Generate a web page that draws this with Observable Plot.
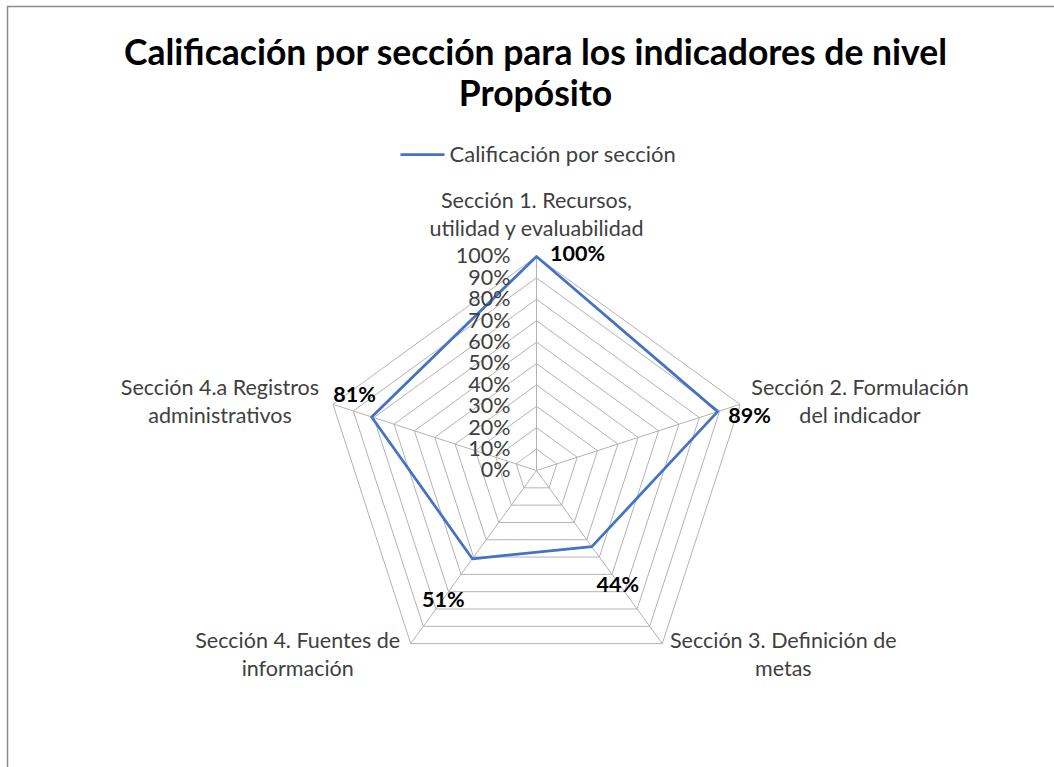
<!DOCTYPE html>
<html><head><meta charset="utf-8">
<script src="https://cdn.jsdelivr.net/npm/d3@7"></script>
<script src="https://cdn.jsdelivr.net/npm/@observablehq/plot@0.6"></script>
<style>
html,body{margin:0;padding:0;background:#fff;overflow:hidden;}
svg{font-family:Lato,"Open Sans",sans-serif;}
</style></head><body><div id="chart"></div>
<script>
// ---- data ----
const titleText = "Calificación por sección para los indicadores de nivel\nPropósito";
const seriesName = "Calificación por sección";
const categories = [
  "Sección 1. Recursos,\nutilidad y evaluabilidad",
  "Sección 2. Formulación\ndel indicador",
  "Sección 3. Definición de\nmetas",
  "Sección 4. Fuentes de\ninformación",
  "Sección 4.a Registros\nadministrativos"
];
const values = [1.00, 0.89, 0.44, 0.51, 0.81];
const ticks = [0, 0.1, 0.2, 0.3, 0.4, 0.5, 0.6, 0.7, 0.8, 0.9, 1.0];
const tickLabels = ["0%", "10%", "20%", "30%", "40%", "50%", "60%", "70%", "80%", "90%", "100%"];

// ---- layout ----
const W = 1054, H = 767, cx = 536, cy = 470, R = 214;
const n = categories.length;
const ang = i => (i % n) * 2 * Math.PI / n;
const px = (i, r) => r * Math.sin(ang(i));
const py = (i, r) => r * Math.cos(ang(i));
const ux = p => (p - cx) / R;   // pixel -> unit (layout only)
const uy = p => (cy - p) / R;
const valueLabelOffset = [[41, -2], [32, 4], [26, 38], [-29, 41], [-17, -22]];
const catLabelOffset = [[0, -43], [120, -4], [121, 9], [-113, 9], [-113, -4]];
const blue = "#4472C4", grid = "#b3b3b3", textGray = "#404040";
const pct = d3.format(".0%");

const rings = ticks.filter(t => t > 0).flatMap(t =>
  d3.range(n + 1).map(i => ({t, x: px(i, t), y: py(i, t)})));

const chart = Plot.plot({
  width: W, height: H, margin: 0,
  x: {domain: [ux(0), ux(W)], axis: null},
  y: {domain: [uy(H), uy(0)], axis: null},
  marks: [
    Plot.frame({stroke: "#8c8c8c", strokeWidth: 1.5, insetLeft: 7, insetTop: 6, insetRight: -6, insetBottom: -6}),
    Plot.line(rings, {x: "x", y: "y", z: "t", stroke: grid, strokeWidth: 1}),
    Plot.link(categories, {x1: () => 0, y1: () => 0, x2: (d, i) => px(i, 1), y2: (d, i) => py(i, 1), stroke: grid, strokeWidth: 1}),
    Plot.line(values, {x: (d, i) => px(i, d), y: (d, i) => py(i, d), curve: "linear-closed", stroke: blue, strokeWidth: 2.75}),
    Plot.text(ticks, {x: () => 0, y: d => d, text: (d, i) => tickLabels[i], textAnchor: "end", dx: -26, fontSize: 21.5, fill: textGray}),
    Plot.text(values, {
      x: (d, i) => px(i, d) + valueLabelOffset[i][0] / R,
      y: (d, i) => py(i, d) - valueLabelOffset[i][1] / R,
      text: d => pct(d), fontSize: 21.5, fontWeight: "bold", fill: "#000"
    }),
    Plot.text(categories, {
      x: (d, i) => px(i, 1) + catLabelOffset[i][0] / R,
      y: (d, i) => py(i, 1) - catLabelOffset[i][1] / R,
      text: d => d, fontSize: 21.5, lineHeight: 1.3, fill: textGray
    }),
    Plot.text([titleText], {x: () => ux(535), y: () => uy(72), text: d => d, fontSize: 35.5, fontWeight: "bold", lineHeight: 1.155, lineAnchor: "middle", fill: "#000"}),
    Plot.link([seriesName], {x1: () => ux(400), x2: () => ux(444), y1: () => uy(154), y2: () => uy(154), stroke: blue, strokeWidth: 2.75}),
    Plot.text([seriesName], {x: () => ux(449), y: () => uy(154), text: d => d, textAnchor: "start", fontSize: 22, fill: textGray})
  ]
});
document.getElementById("chart").append(chart);
</script></body></html>
